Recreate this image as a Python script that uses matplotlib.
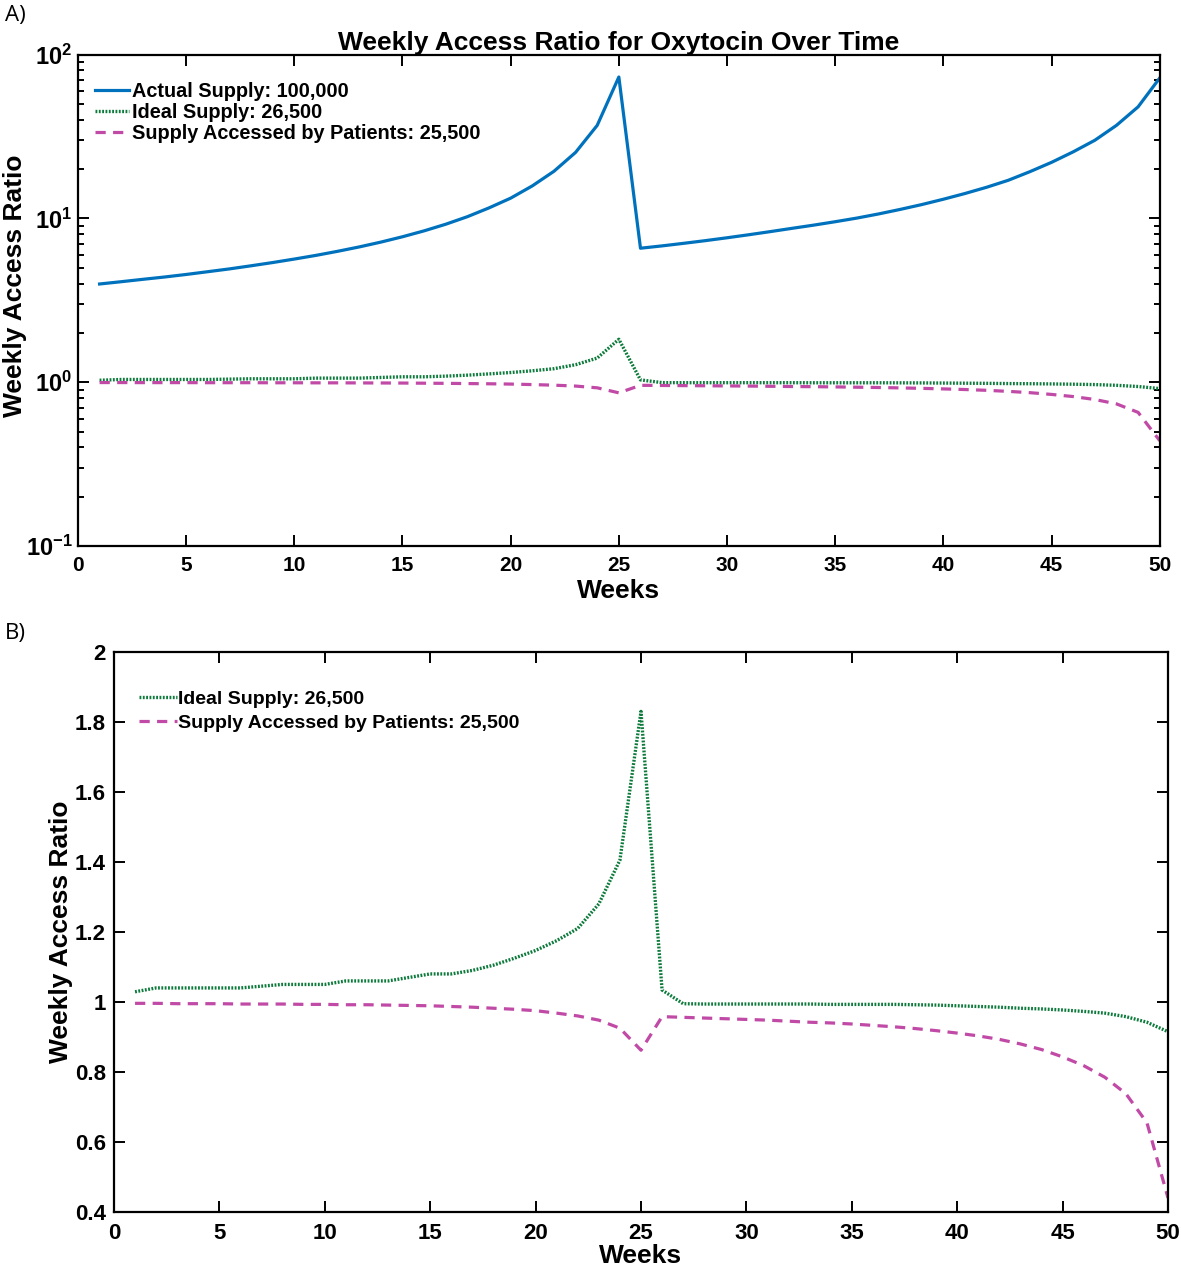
import numpy as np
import matplotlib
matplotlib.use("Agg")
from matplotlib import pyplot as plt
from matplotlib.ticker import LogLocator, NullFormatter

plt.rcParams['font.family'] = ['Liberation Sans', 'DejaVu Sans']
plt.rcParams['mathtext.fontset'] = 'custom'
plt.rcParams['mathtext.rm'] = 'Liberation Sans:bold'
plt.rcParams['mathtext.bf'] = 'Liberation Sans:bold'
plt.rcParams['mathtext.default'] = 'bf'

# data
weeks = list(range(1, 51))

actual_supply = [3.98, 4.11, 4.25, 4.39, 4.55, 4.73, 4.92, 5.14, 5.38, 5.65,
                 5.95, 6.30, 6.70, 7.17, 7.73, 8.40, 9.22, 10.25, 11.6, 13.3,
                 15.8, 19.4, 25.3, 37.0, 73.0,
                 6.58, 6.80, 7.05, 7.32, 7.62, 7.95, 8.31, 8.70, 9.10, 9.55,
                 10.05, 10.65, 11.35, 12.15, 13.1, 14.2, 15.5, 17.1, 19.3, 22.0,
                 25.5, 30.0, 37.0, 48.0, 72.0]

ideal_supply = [1.029, 1.04, 1.04, 1.04, 1.04, 1.04, 1.045, 1.05, 1.05, 1.05,
                1.06, 1.06, 1.06, 1.07, 1.08, 1.08, 1.09, 1.105, 1.125, 1.147,
                1.175, 1.21, 1.28, 1.405, 1.83,
                1.034, 0.995, 0.994, 0.994, 0.994, 0.994, 0.994, 0.994, 0.993, 0.993,
                0.993, 0.993, 0.992, 0.991, 0.989, 0.987, 0.985, 0.982, 0.980, 0.977,
                0.973, 0.968, 0.958, 0.942, 0.915]

accessed = [0.996, 0.996, 0.995, 0.995, 0.995, 0.994, 0.994, 0.994, 0.993, 0.993,
            0.992, 0.992, 0.991, 0.990, 0.989, 0.987, 0.985, 0.982, 0.979, 0.975,
            0.968, 0.960, 0.948, 0.925, 0.862,
            0.958, 0.956, 0.954, 0.952, 0.950, 0.948, 0.945, 0.942, 0.940, 0.937,
            0.933, 0.929, 0.924, 0.918, 0.911, 0.903, 0.893, 0.880, 0.864, 0.843,
            0.818, 0.785, 0.738, 0.655, 0.44]

labels = ['Actual Supply: 100,000', 'Ideal Supply: 26,500',
          'Supply Accessed by Patients: 25,500']

blue = '#0072BD'
green = '#0B7A3A'
magenta = '#C04AA6'

fig = plt.figure(figsize=(11.81, 12.70), dpi=100)

def style_axes(ax):
    for s in ax.spines.values():
        s.set_linewidth(1.6)
    ax.tick_params(which='both', direction='in', top=True, right=True, width=1.4)
    ax.tick_params(which='major', length=8)
    ax.tick_params(which='minor', length=4.5)
    for t in ax.get_xticklabels() + ax.get_yticklabels():
        t.set_fontweight('bold')

# panel A
axA = fig.add_axes([0.066, 0.570, 0.916, 0.387])
axA.plot(weeks, actual_supply, color=blue, lw=2.3, label=labels[0])
axA.plot(weeks, ideal_supply, color=green, lw=2.4, ls=(0, (0.55, 0.45)), label=labels[1])
axA.plot(weeks, accessed, color=magenta, lw=2.3, ls=(0, (3.2, 2.3)), label=labels[2])
axA.set_yscale('log')
axA.set_xlim(0, 50)
axA.set_ylim(0.1, 100)
axA.set_xticks(range(0, 51, 5))
axA.yaxis.set_minor_locator(LogLocator(base=10, subs=np.arange(2, 10)))
axA.yaxis.set_minor_formatter(NullFormatter())
axA.tick_params(axis='x', labelsize=15, pad=7)
axA.tick_params(axis='y', labelsize=17, pad=4)
style_axes(axA)
axA.set_title('Weekly Access Ratio for Oxytocin Over Time', fontsize=19,
              fontweight='bold', pad=2)
axA.set_xlabel('Weeks', fontsize=19, fontweight='bold', labelpad=3)
axA.set_ylabel('Weekly Access Ratio', fontsize=19, fontweight='bold')
axA.yaxis.set_label_coords(-0.047, 0.53)
axA.legend(loc='upper left', frameon=False,
           prop={'weight': 'bold', 'size': 14.3},
           handlelength=1.75, handletextpad=0.15, labelspacing=0.1,
           borderaxespad=0.0, bbox_to_anchor=(0.008, 0.96))

# panel B
axB = fig.add_axes([0.0965, 0.0457, 0.8925, 0.441])
axB.plot(weeks, ideal_supply, color=green, lw=2.4, ls=(0, (0.55, 0.45)), label=labels[1])
axB.plot(weeks, accessed, color=magenta, lw=2.3, ls=(0, (3.2, 2.3)), label=labels[2])
axB.set_xlim(0, 50)
axB.set_ylim(0.4, 2)
axB.set_xticks(range(0, 51, 5))
axB.set_yticks([0.4, 0.6, 0.8, 1, 1.2, 1.4, 1.6, 1.8, 2])
axB.set_yticklabels(['0.4', '0.6', '0.8', '1', '1.2', '1.4', '1.6', '1.8', '2'])
axB.tick_params(axis='x', labelsize=16, pad=8)
axB.tick_params(axis='y', labelsize=16, pad=6)
style_axes(axB)
axB.set_xlabel('Weeks', fontsize=19, fontweight='bold', labelpad=0)
axB.set_ylabel('Weekly Access Ratio', fontsize=19, fontweight='bold')
axB.yaxis.set_label_coords(-0.039, 0.5)
axB.legend(loc='upper left', frameon=False,
           prop={'weight': 'bold', 'size': 14},
           handlelength=1.95, handletextpad=0.1, labelspacing=0.3,
           borderaxespad=0.0, bbox_to_anchor=(0.016, 0.945))

fig.text(0.004, 0.988, 'A)', fontsize=16, family='Open Sans', va='center')
fig.text(0.004, 0.501, 'B)', fontsize=16, family='Open Sans', va='center')

fig.savefig('out.png', dpi=100)
